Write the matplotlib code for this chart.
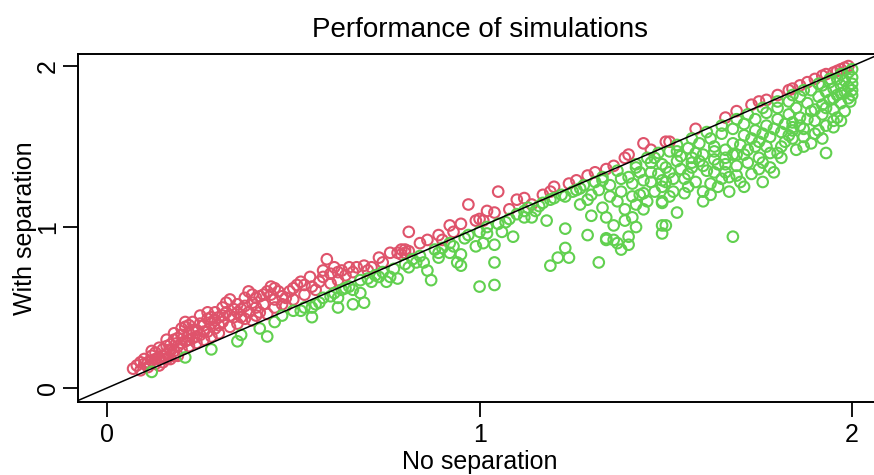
import matplotlib
matplotlib.use("Agg")
import matplotlib.pyplot as plt

# values (No separation, With separation)
red_points = [
    (0.07, 0.12), (0.08, 0.14), (0.09, 0.11), (0.10, 0.15), (0.10, 0.18), (0.11, 0.13),
    (0.11, 0.16), (0.12, 0.17), (0.12, 0.20), (0.13, 0.15), (0.13, 0.22), (0.14, 0.19),
    (0.14, 0.14), (0.15, 0.16), (0.15, 0.24), (0.16, 0.21), (0.16, 0.18), (0.16, 0.30),
    (0.17, 0.18), (0.17, 0.27), (0.18, 0.23), (0.18, 0.30), (0.18, 0.20), (0.19, 0.20),
    (0.19, 0.26), (0.20, 0.33), (0.20, 0.24), (0.20, 0.28), (0.21, 0.29), (0.21, 0.38),
    (0.21, 0.41), (0.22, 0.26), (0.22, 0.34), (0.22, 0.30), (0.23, 0.31), (0.23, 0.41),
    (0.24, 0.28), (0.24, 0.36), (0.25, 0.33), (0.25, 0.45), (0.26, 0.30), (0.26, 0.39),
    (0.27, 0.35), (0.27, 0.43), (0.28, 0.32), (0.28, 0.40), (0.29, 0.37), (0.29, 0.47),
    (0.30, 0.34), (0.30, 0.44), (0.31, 0.41), (0.31, 0.50), (0.32, 0.47), (0.32, 0.53),
    (0.33, 0.38), (0.33, 0.45), (0.34, 0.44), (0.35, 0.40), (0.35, 0.52), (0.36, 0.49),
    (0.37, 0.43), (0.37, 0.56), (0.38, 0.47), (0.38, 0.60), (0.39, 0.42), (0.40, 0.50),
    (0.40, 0.56), (0.41, 0.47), (0.41, 0.57), (0.42, 0.52), (0.43, 0.46), (0.44, 0.63),
    (0.44, 0.58), (0.45, 0.50), (0.45, 0.55), (0.47, 0.52), (0.48, 0.56), (0.49, 0.60),
    (0.50, 0.55), (0.51, 0.64), (0.52, 0.66), (0.53, 0.58), (0.545, 0.69), (0.55, 0.63),
    (0.57, 0.66), (0.58, 0.73), (0.59, 0.80), (0.60, 0.71), (0.61, 0.75), (0.62, 0.67),
    (0.64, 0.70), (0.65, 0.75), (0.67, 0.75), (0.71, 0.75), (0.73, 0.81), (0.76, 0.84),
    (0.78, 0.84), (0.79, 0.83), (0.80, 0.84), (0.80, 0.86), (0.81, 0.85), (0.81, 0.97),
    (0.84, 0.90), (0.89, 0.95), (0.90, 0.92), (0.92, 1.01), (0.95, 1.02), (0.97, 1.14),
    (0.99, 1.04), (1.00, 1.05), (1.01, 1.04), (1.04, 1.09), (1.05, 1.22), (1.08, 1.11),
    (1.10, 1.17), (1.14, 1.14), (1.19, 1.22), (1.20, 1.25), (1.26, 1.29), (1.29, 1.32),
    (1.31, 1.34), (1.34, 1.36), (1.36, 1.38), (1.39, 1.43), (1.40, 1.45), (1.44, 1.52),
    (1.50, 1.53), (1.51, 1.53), (1.66, 1.68), (1.73, 1.76), (1.75, 1.78), (1.77, 1.79),
    (1.83, 1.85), (1.84, 1.86), (1.88, 1.90), (1.92, 1.94), (1.93, 1.95), (1.95, 1.96),
    (1.96, 1.97), (1.97, 1.98), (1.98, 1.99), (1.99, 2.00),
    (0.13, 0.18), (0.15, 0.20), (0.17, 0.23), (0.19, 0.31), (0.23, 0.36), (0.26, 0.35),
    (0.28, 0.44), (0.30, 0.39), (0.34, 0.49), (0.36, 0.44), (0.39, 0.53), (0.42, 0.58),
    (0.46, 0.60), (0.48, 0.51), (0.56, 0.61), (0.63, 0.73), (0.69, 0.76), (0.79, 0.86),
    (0.09, 0.16), (0.12, 0.23), (0.14, 0.25), (0.16, 0.26), (0.18, 0.34), (0.20, 0.37),
    (0.22, 0.39), (0.24, 0.32), (0.25, 0.40), (0.27, 0.47), (0.29, 0.42), (0.31, 0.45),
    (0.33, 0.55), (0.35, 0.47), (0.37, 0.51), (0.39, 0.58), (0.40, 0.45), (0.43, 0.60),
    (0.45, 0.62), (0.47, 0.57), (0.50, 0.62), (0.53, 0.64), (0.58, 0.69), (0.60, 0.65),
    (0.62, 0.72), (0.66, 0.72), (0.70, 0.73), (0.74, 0.78), (0.86, 0.92), (0.93, 0.97),
    (1.02, 1.10), (1.12, 1.18), (1.17, 1.20), (1.24, 1.27), (1.46, 1.48), (1.58, 1.61),
    (1.69, 1.72), (1.80, 1.82), (1.86, 1.88), (1.90, 1.92),
]

green_points = [
    (0.12, 0.10), (0.21, 0.19), (0.28, 0.24), (0.35, 0.29), (0.36, 0.33), (0.41, 0.37),
    (0.43, 0.32), (0.45, 0.41), (0.50, 0.48), (0.52, 0.48), (0.55, 0.50), (0.55, 0.44),
    (0.56, 0.52), (0.58, 0.56), (0.60, 0.57), (0.62, 0.50), (0.62, 0.56), (0.63, 0.61),
    (0.65, 0.63), (0.66, 0.52), (0.66, 0.61), (0.68, 0.59), (0.68, 0.67), (0.69, 0.53),
    (0.70, 0.68), (0.71, 0.66), (0.74, 0.72), (0.76, 0.69), (0.78, 0.68), (0.80, 0.77),
    (0.81, 0.75), (0.82, 0.80), (0.83, 0.78), (0.85, 0.78), (0.86, 0.73), (0.87, 0.67),
    (0.89, 0.81), (0.89, 0.84), (0.90, 0.87), (0.92, 0.84), (0.93, 0.88), (0.94, 0.78),
    (0.95, 0.76), (0.95, 0.83), (0.96, 0.93), (0.99, 0.88), (1.00, 0.63), (1.01, 0.90),
    (1.02, 0.96), (1.04, 0.89), (1.04, 0.64), (1.04, 0.78), (1.05, 1.02), (1.06, 0.97),
    (1.08, 1.05), (1.09, 0.94), (1.12, 1.06), (1.12, 1.10), (1.14, 1.06), (1.16, 1.13),
    (1.18, 1.04), (1.19, 1.17), (1.19, 0.76), (1.20, 1.18), (1.21, 0.81), (1.23, 1.19),
    (1.23, 0.99), (1.23, 0.87), (1.24, 0.81), (1.25, 1.22), (1.27, 1.24), (1.28, 1.26),
    (1.29, 1.17), (1.29, 0.95), (1.30, 1.07), (1.32, 1.23), (1.32, 0.78), (1.33, 1.29),
    (1.33, 1.31), (1.34, 1.06), (1.34, 0.93), (1.34, 0.92), (1.35, 1.19), (1.36, 1.01),
    (1.36, 0.92), (1.37, 0.90), (1.37, 1.35), (1.38, 0.86), (1.38, 1.22), (1.39, 1.11),
    (1.40, 0.94), (1.40, 1.31), (1.40, 0.89), (1.41, 1.19), (1.41, 1.06), (1.42, 1.00),
    (1.42, 1.14), (1.42, 1.37), (1.42, 1.39), (1.43, 1.34), (1.44, 1.11), (1.44, 1.21),
    (1.45, 1.43), (1.46, 1.28), (1.46, 1.34), (1.47, 1.43), (1.48, 1.46), (1.49, 1.15),
    (1.49, 1.25), (1.49, 1.01), (1.49, 0.96), (1.49, 1.39), (1.49, 1.29), (1.49, 1.16),
    (1.50, 1.37), (1.50, 1.01), (1.51, 1.34), (1.52, 1.22), (1.53, 1.09), (1.53, 1.47),
    (1.55, 1.30), (1.56, 1.25), (1.57, 1.40), (1.58, 1.46), (1.60, 1.22), (1.60, 1.16),
    (1.62, 1.20), (1.63, 1.34), (1.64, 1.39), (1.65, 1.30), (1.66, 1.34), (1.67, 1.22),
    (1.68, 0.94), (1.69, 1.32), (1.69, 1.45), (1.71, 1.25), (1.72, 1.40), (1.75, 1.43),
    (1.76, 1.28), (1.79, 1.34), (1.81, 1.43), (1.83, 1.57), (1.84, 1.62), (1.87, 1.56),
    (1.91, 1.60), (1.93, 1.46), (1.95, 1.66),
    (0.57, 0.53), (0.61, 0.59), (0.72, 0.70), (0.75, 0.66), (0.77, 0.74), (0.88, 0.86),
    (0.97, 0.95), (1.00, 0.97), (1.10, 1.08), (1.15, 1.10), (1.22, 1.20), (1.31, 1.28),
    (1.51, 1.47), (1.53, 1.41), (1.54, 1.36), (1.56, 1.49), (1.57, 1.43), (1.59, 1.52),
    (1.60, 1.38), (1.62, 1.55), (1.63, 1.47), (1.65, 1.58), (1.66, 1.43), (1.68, 1.61),
    (1.68, 1.52), (1.69, 1.38), (1.71, 1.64), (1.71, 1.57), (1.72, 1.48), (1.74, 1.67),
    (1.74, 1.60), (1.75, 1.53), (1.75, 1.36), (1.77, 1.71), (1.77, 1.63), (1.78, 1.56),
    (1.78, 1.46), (1.80, 1.74), (1.80, 1.67), (1.81, 1.59), (1.81, 1.50), (1.83, 1.78),
    (1.83, 1.70), (1.84, 1.65), (1.84, 1.55), (1.85, 1.74), (1.86, 1.81), (1.86, 1.68),
    (1.87, 1.61), (1.87, 1.50), (1.88, 1.77), (1.89, 1.85), (1.89, 1.72), (1.90, 1.66),
    (1.90, 1.58), (1.91, 1.81), (1.92, 1.88), (1.92, 1.76), (1.92, 1.70), (1.93, 1.63),
    (1.93, 1.84), (1.94, 1.90), (1.94, 1.79), (1.95, 1.73), (1.95, 1.86), (1.96, 1.92),
    (1.96, 1.82), (1.96, 1.68), (1.97, 1.88), (1.97, 1.77), (1.97, 1.95), (1.98, 1.91),
    (1.98, 1.84), (1.98, 1.72), (1.99, 1.96), (1.99, 1.87), (1.99, 1.80), (2.00, 1.98),
    (2.00, 1.93), (2.00, 1.89), (2.00, 1.85), (2.00, 1.82), (1.995, 1.78), (1.97, 1.83),
    (1.95, 1.80), (1.93, 1.74), (1.90, 1.73), (1.88, 1.67), (1.86, 1.63), (1.84, 1.60),
    (1.82, 1.64), (1.79, 1.61), (1.76, 1.58), (1.73, 1.55), (1.70, 1.51), (1.66, 1.48),
    (1.63, 1.42), (1.60, 1.45), (1.57, 1.37), (1.53, 1.51), (1.57, 1.55), (1.61, 1.59),
    (1.65, 1.63), (1.69, 1.67), (1.72, 1.70), (1.76, 1.74), (1.80, 1.78), (1.84, 1.82),
    (1.87, 1.85), (1.91, 1.89), (1.94, 1.92),
    (1.27, 1.14), (1.30, 1.20), (1.33, 1.12), (1.35, 1.26), (1.37, 1.16), (1.38, 1.30),
    (1.39, 1.04), (1.41, 1.27), (1.43, 1.20), (1.44, 1.29), (1.45, 1.16), (1.46, 1.40),
    (1.47, 1.22), (1.48, 1.33), (1.50, 1.28), (1.51, 1.19), (1.52, 1.30), (1.54, 1.44),
    (1.55, 1.21), (1.56, 1.33), (1.58, 1.28), (1.59, 1.41), (1.61, 1.35), (1.62, 1.27),
    (1.63, 1.50), (1.64, 1.25), (1.66, 1.39), (1.67, 1.31), (1.68, 1.45), (1.70, 1.28),
    (1.71, 1.45), (1.73, 1.33), (1.74, 1.50), (1.76, 1.40), (1.77, 1.50), (1.78, 1.37),
    (1.80, 1.46), (1.82, 1.53), (1.85, 1.48), (1.89, 1.52), (1.92, 1.55), (1.95, 1.62),
    (1.97, 1.66), (1.02, 1.00), (1.07, 1.03), (1.13, 1.12), (1.17, 1.15), (1.26, 1.23),
    (0.47, 0.45), (0.53, 0.50), (0.64, 0.62), (0.73, 0.69), (0.84, 0.82), (0.92, 0.90),
]

TICKS = [0, 1, 2]
RED = '#DF536B'
GREEN = '#61D04F'

plt.rcParams['font.family'] = ['Liberation Sans', 'DejaVu Sans']

fig = plt.figure(figsize=(8.74, 4.75), dpi=100)
ax = fig.add_axes([0.0892, 0.1537, 0.919, 0.7326])

rx, ry = zip(*red_points)
gx, gy = zip(*green_points)
ax.scatter(rx, ry, s=58, facecolors='none', edgecolors=RED, linewidths=1.5)
ax.scatter(gx, gy, s=58, facecolors='none', edgecolors=GREEN, linewidths=1.5)
ax.axline((0, 0), slope=1, color='black', lw=1.1)

ax.set_xlim(-0.078, 2.078)
ax.set_ylim(-0.087, 2.075)
ax.set_xticks(TICKS)
ax.set_yticks(TICKS)
ax.tick_params(direction='out', length=11, width=1.3, labelsize=18, pad=4)
ax.tick_params(axis='y', pad=2)
for lab in ax.get_yticklabels():
    lab.set_rotation(90)
    lab.set_va('center')
for sp in ax.spines.values():
    sp.set_linewidth(1.4)

ax.set_xlabel('No separation', fontsize=18, labelpad=2)
ax.set_ylabel('With separation', fontsize=18, labelpad=-1)
ax.set_title('Performance of simulations', fontsize=20, pad=12)

fig.savefig('out.png', dpi=100)
